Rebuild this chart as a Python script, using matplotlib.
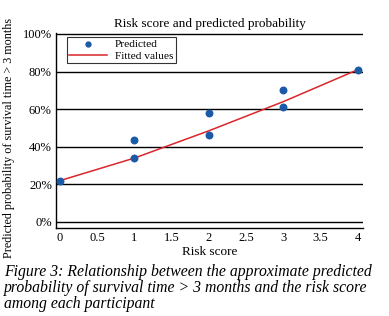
import matplotlib
matplotlib.use("Agg")
import matplotlib.pyplot as plt
from matplotlib.ticker import FuncFormatter

# risk score vs predicted probability (%)
score = [0, 1, 1, 2, 2, 3, 3, 4]
predicted = [22, 43.6, 34, 58, 46.5, 70, 61, 80.7]

fit_score = [0, 1, 2, 3, 4]
fitted = [22, 34, 48.5, 64, 81]

xticks = [0, 0.5, 1, 1.5, 2, 2.5, 3, 3.5, 4]
xticklabels = ["0", "0.5", "1", "1.5", "2", "2.5", "3", "3.5", "4"]
yticks = [0, 20, 40, 60, 80, 100]

plt.rcParams["font.family"] = ["Liberation Serif", "DejaVu Serif"]

fig = plt.figure(figsize=(3.89, 3.16), dpi=100)
ax = fig.add_axes([0.144, 0.2785, 0.789, 0.617])

for y in yticks:
    ax.axhline(y, color="black", lw=1.0, zorder=1)

ax.plot(fit_score, fitted, color="#d9262b", lw=1.1, label="Fitted values", zorder=2)
ax.scatter(score, predicted, s=22, color="#1a5aa6", label="Predicted", zorder=3)

ax.set_xlim(-0.054, 4.07)
ax.set_ylim(-3.2, 100.5)
ax.set_xticks(xticks)
ax.set_xticklabels(xticklabels)
ax.set_yticks(yticks)
ax.yaxis.set_major_formatter(FuncFormatter(lambda v, p: "%d%%" % v))
ax.tick_params(length=0, labelsize=9, pad=3)
for s in ["top", "right"]:
    ax.spines[s].set_visible(False)
ax.spines["left"].set_linewidth(1.0)
ax.spines["bottom"].set_linewidth(1.0)

ax.set_title("Risk score and predicted probability", fontsize=9.5, pad=4)
ax.set_xlabel("Risk score", fontsize=9.5, labelpad=1)
ax.set_ylabel("Predicted probability of survival time > 3 months", fontsize=8.7)
ax.yaxis.set_label_coords(-0.134, 0.464)

handles, labels = ax.get_legend_handles_labels()
leg = ax.legend(handles[::-1], labels[::-1], loc="upper left", bbox_to_anchor=(0.036, 0.979),
                fontsize=8.2, frameon=True, fancybox=False, edgecolor="black",
                handlelength=3.3, handletextpad=0.7, borderpad=0.2, labelspacing=0.15,
                borderaxespad=0, markerscale=0.75)
leg.get_frame().set_linewidth(0.8)

fig.text(0.01, 0.089, "Figure 3: Relationship between the approximate predicted\n"
         "probability of survival time > 3 months and the risk score\n"
         "among each participant", fontsize=11.3, style="italic",
         va="center", ha="left", linespacing=1.0)

fig.savefig("out.png", dpi=100)
